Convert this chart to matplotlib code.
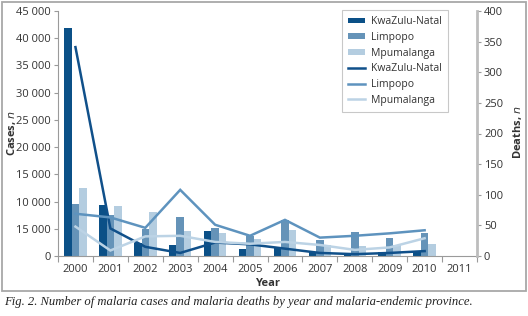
import numpy as np
import matplotlib
matplotlib.use("Agg")
import matplotlib.pyplot as plt
from matplotlib.patches import Rectangle, Patch
from matplotlib.lines import Line2D

years = ["2000", "2001", "2002", "2003", "2004", "2005", "2006", "2007", "2008", "2009", "2010", "2011"]
provinces = ["KwaZulu-Natal", "Limpopo", "Mpumalanga"]

# Cases (bars, left axis)
cases_kzn = [41900, 9400, 2450, 2000, 4600, 1250, 1400, 750, 300, 650, 900, np.nan]
cases_lim = [9500, 7500, 4900, 7100, 5100, 3700, 6600, 3000, 4500, 3300, 4300, np.nan]
cases_mpu = [12400, 9200, 8100, 4600, 4200, 3050, 4800, 2000, 1750, 2000, 2200, np.nan]

# Deaths (lines, right axis)
deaths_kzn = [341, 45, 15, 5, 22, 19, 12, 5, 3, 5, 8, np.nan]
deaths_lim = [69, 63, 46, 108, 51, 33, 59, 30, 33, 37, 42, np.nan]
deaths_mpu = [48, 9, 32, 33, 23, 20, 23, 18, 10, 14, 29, np.nan]

left_ticks = [0, 5000, 10000, 15000, 20000, 25000, 30000, 35000, 40000, 45000]
left_ticklabels = ["0", "15 000", "10 000", "15 000", "20 000", "25 000", "30 000", "35 000", "40 000", "45 000"]
right_ticks = [0, 50, 100, 150, 200, 250, 300, 350, 400]

bar_colors = ["#0b5087", "#6593b8", "#b4cde0"]
line_colors = ["#10508a", "#5e93be", "#bcd3e5"]

plt.rcParams["font.family"] = ["Open Sans", "DejaVu Sans"]
fs = 8
grey = "#9a9a9a"
txt = "#333333"

W, H = 528, 316
fig = plt.figure(figsize=(W / 100, H / 100), dpi=100)
ax = fig.add_axes([58 / W, 1 - 256 / H, (477 - 58) / W, (256 - 11) / H])
ax2 = ax.twinx()

x = np.arange(len(years))
bw = 0.215
for i, (vals, c) in enumerate(zip([cases_kzn, cases_lim, cases_mpu], bar_colors)):
    ax.bar(x + (i - 1) * bw, vals, width=bw, color=c, edgecolor="none", zorder=2)

for vals, c in zip([deaths_kzn, deaths_lim, deaths_mpu], line_colors):
    ax2.plot(x, vals, color=c, lw=1.8, solid_joinstyle="miter", zorder=3)

ax.set_xlim(-0.5, len(years) - 0.5)
ax.set_ylim(0, 45000)
ax2.set_ylim(0, 400)

ax.set_yticks(left_ticks)
ax.set_yticklabels(left_ticklabels)
ax2.set_yticks(right_ticks)
ax2.set_yticklabels([str(t) for t in right_ticks])

ax.set_xticks(x)
ax.set_xticklabels(years)
ax.set_xticks(np.arange(len(years) + 1) - 0.5, minor=True)
ax.tick_params(axis="x", which="major", length=0, labelsize=fs, colors=txt, pad=6)
ax.tick_params(axis="x", which="minor", length=4, color=grey, width=0.8)
ax.tick_params(axis="y", length=3, color=grey, width=0.8, labelsize=fs, labelcolor=txt, pad=2)
ax2.tick_params(axis="y", length=3, color=grey, width=0.8, labelsize=fs, labelcolor=txt, pad=2)

for a in (ax, ax2):
    a.spines["top"].set_visible(False)
    a.set_facecolor("none")
ax.spines["right"].set_visible(False)
ax2.spines["left"].set_visible(False)
ax2.spines["bottom"].set_visible(False)
ax.spines["left"].set_color(grey)
ax.spines["left"].set_linewidth(0.8)
ax.spines["bottom"].set_color(grey)
ax.spines["bottom"].set_linewidth(0.8)
ax2.spines["right"].set_color("#bdbdbd")
ax2.spines["right"].set_linewidth(2.0)

# Axis titles
fig.text(12 / W, 1 - 133 / H, "Cases, $\\mathit{n}$", rotation=90, ha="center", va="center",
         fontsize=fs, fontweight="bold", color=txt)
fig.text(518 / W, 1 - 132 / H, "Deaths, $\\mathit{n}$", rotation=90, ha="center", va="center",
         fontsize=fs, fontweight="bold", color=txt)
fig.text(268 / W, 1 - 283 / H, "Year", ha="center", va="center",
         fontsize=fs, fontweight="bold", color=txt)

# Legend
handles = [Patch(facecolor=c, edgecolor="none") for c in bar_colors] + \
          [Line2D([0], [0], color=c, lw=1.8) for c in line_colors]
labels = provinces + provinces
leg = fig.legend(handles, labels, loc="upper left", bbox_to_anchor=(342 / W, 1 - 10 / H),
                 bbox_transform=fig.transFigure, frameon=True, fancybox=False,
                 edgecolor="#bbbbbb", fontsize=7.5, handlelength=1.6, handleheight=0.45,
                 labelspacing=0.45, borderpad=0.6, handletextpad=0.6, borderaxespad=0)
leg.get_frame().set_linewidth(0.8)
for t in leg.get_texts():
    t.set_color(txt)

# Outer frame
fig.add_artist(Rectangle((2 / W, 1 - 291 / H), (524 / W), (289 / H), transform=fig.transFigure,
                         fill=False, edgecolor="#a8a8a8", lw=1.3))

# Caption
fig.text(4 / W, 1 - 302 / H,
         "Fig. 2. Number of malaria cases and malaria deaths by year and malaria-endemic province.",
         ha="left", va="center", fontsize=9.1, style="italic", family="Liberation Serif", color="#222222")

fig.savefig("out.png", dpi=100)
